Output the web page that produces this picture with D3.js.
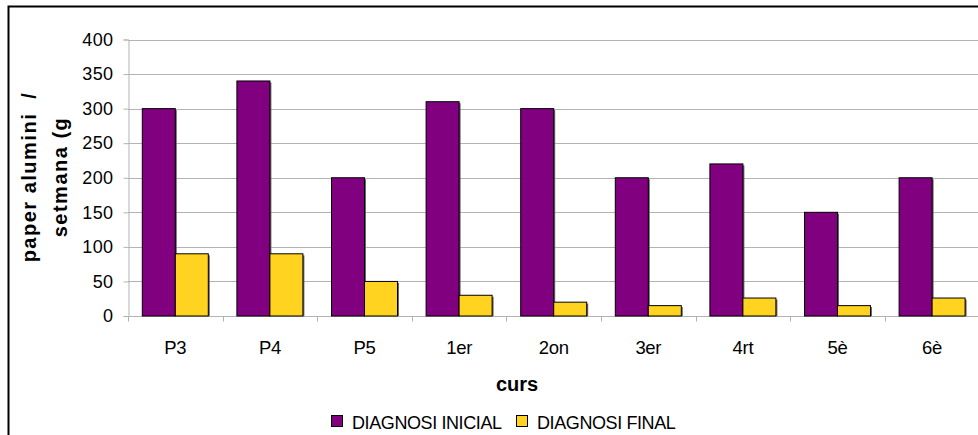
<!DOCTYPE html>
<html>
<head>
<meta charset="utf-8">
<script src="https://cdn.jsdelivr.net/npm/d3@7"></script>
<style>
  html, body { margin: 0; padding: 0; background: #fff; }
  svg { display: block; }
  text { font-family: "Liberation Sans", Arial, sans-serif; }
</style>
</head>
<body>
<svg id="chart" width="978" height="435"></svg>
<script>
const categories = ["P3", "P4", "P5", "1er", "2on", "3er", "4rt", "5è", "6è"];
const seriesNames = ["DIAGNOSI INICIAL", "DIAGNOSI FINAL"];
const inicial = [300, 340, 200, 310, 300, 200, 220, 150, 200];
const final = [90, 90, 50, 30, 20, 15, 26, 15, 26];
const yTicks = [0, 50, 100, 150, 200, 250, 300, 350, 400];
const colors = ["#800080", "#FFD320"];
const yTitleLines = ["paper alumini  /", "setmana (g"];
const xTitle = "curs";

const svg = d3.select("#chart");
const W = 978, H = 435;

// outer frame
svg.append("rect").attr("x", 8.5).attr("y", 6.5).attr("width", 1100).attr("height", 600)
  .attr("fill", "none").attr("stroke", "#000").attr("stroke-width", 2);

const plotLeft = 128, plotTop = 39.5, plotBottom = 316;
const bandW = 94.6;
const x = d3.scaleBand().domain(categories).range([plotLeft, plotLeft + bandW * categories.length]).padding(0);
const xs = d3.scaleBand().domain(seriesNames).range([14.3, bandW - 14.3]).padding(0);
const y = d3.scaleLinear().domain([0, 400]).range([plotBottom, plotTop]);

// gridlines
svg.append("g").selectAll("line").data(yTicks.filter(d => d > 0)).join("line")
  .attr("x1", plotLeft).attr("x2", W + 10)
  .attr("y1", d => Math.round(y(d)) + 0.5).attr("y2", d => Math.round(y(d)) + 0.5)
  .attr("stroke", "#b3b3b3").attr("stroke-width", 1);

// y axis
const yAxis = d3.axisLeft(y).tickValues(yTicks).tickSize(5).tickPadding(10);
const gy = svg.append("g").attr("transform", `translate(${plotLeft + 0.5},0)`).call(yAxis);
gy.select(".domain").attr("stroke", "#b3b3b3");
gy.selectAll(".tick line").attr("stroke", "#b3b3b3");
gy.selectAll(".tick text").attr("font-size", 18).attr("letter-spacing", 0.4).attr("fill", "#000")
  .attr("font-family", "Liberation Sans, Arial, sans-serif");

// x axis with ticks at band boundaries
const gx = svg.append("g").attr("transform", `translate(0,${plotBottom + 0.5})`);
gx.append("line").attr("x1", plotLeft).attr("x2", W + 10).attr("stroke", "#b3b3b3");
gx.selectAll("line.tk").data(categories).join("line").attr("class", "tk")
  .attr("x1", d => Math.round(x(d)) + 0.5).attr("x2", d => Math.round(x(d)) + 0.5)
  .attr("y1", 0).attr("y2", 5).attr("stroke", "#b3b3b3");
gx.selectAll("text").data(categories).join("text")
  .attr("x", d => x(d) + x.bandwidth() / 2).attr("y", 37)
  .attr("text-anchor", "middle").attr("font-size", 18.5).attr("letter-spacing", -0.3).attr("fill", "#000")
  .text(d => d);

// bars
const data = categories.map((c, i) => ({ c, vals: [inicial[i], final[i]] }));
const groups = svg.append("g").selectAll("g").data(data).join("g")
  .attr("transform", d => `translate(${x(d.c)},0)`);
groups.selectAll("rect.shadow").data(d => d.vals.map((v, j) => ({ v, s: seriesNames[j], j }))).join("rect")
  .attr("class", "shadow")
  .attr("x", d => xs(d.s) + 1.5).attr("y", d => y(d.v) + 1.5)
  .attr("width", xs.bandwidth()).attr("height", d => plotBottom - y(d.v) - 1.5)
  .attr("fill", "#666");
groups.selectAll("rect.bar").data(d => d.vals.map((v, j) => ({ v, s: seriesNames[j], j }))).join("rect")
  .attr("class", "bar")
  .attr("x", d => xs(d.s)).attr("y", d => y(d.v))
  .attr("width", xs.bandwidth()).attr("height", d => plotBottom - y(d.v))
  .attr("fill", d => colors[d.j]).attr("stroke", "#000").attr("stroke-width", 1);

// y title
const yt = svg.append("text").attr("transform", "translate(0,177) rotate(-90)")
  .attr("text-anchor", "middle").attr("font-weight", "bold").attr("font-size", 20)
  .attr("letter-spacing", 1.5).attr("fill", "#000");
yt.selectAll("tspan").data(yTitleLines).join("tspan")
  .attr("x", 0).attr("y", (d, i) => 36 + i * 31).attr("xml:space", "preserve").text(d => d);

// x title
svg.append("text").attr("x", 517).attr("y", 391).attr("text-anchor", "middle")
  .attr("font-weight", "bold").attr("font-size", 20).attr("fill", "#000").text(xTitle);

// legend
const lg = svg.append("g");
const legX = [331, 516];
seriesNames.forEach((n, i) => {
  lg.append("rect").attr("x", legX[i] + 0.5).attr("y", 415.5).attr("width", 11).attr("height", 11)
    .attr("fill", colors[i]).attr("stroke", "#000").attr("stroke-width", 1);
  lg.append("text").attr("x", legX[i] + 21).attr("y", 428.5).attr("font-size", 18)
    .attr("letter-spacing", -0.4).attr("fill", "#000").text(n);
});
</script>
</body>
</html>
